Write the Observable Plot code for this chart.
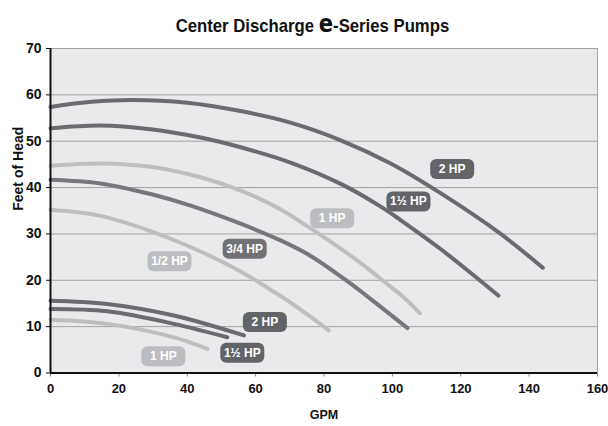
<!DOCTYPE html>
<html>
<head>
<meta charset="utf-8">
<script src="https://cdn.jsdelivr.net/npm/d3@7"></script>
<script src="https://cdn.jsdelivr.net/npm/@observablehq/plot@0.6"></script>
<style>
  html, body { margin: 0; padding: 0; background: #fff; }
  #title { height: 40px; box-sizing: border-box; padding-top: 7px; padding-left: 16px; line-height: 34px;
           text-align: center; font-family: "Liberation Sans", sans-serif;
           font-weight: bold; font-size: 19px; color: #111; white-space: nowrap; }
  #title .inner { display: inline-block; transform: scaleX(0.88); transform-origin: center; }
  #title .e { font-family: "DejaVu Sans", sans-serif; font-size: 24px; }
</style>
</head>
<body>
<div id="title"><span class="inner">Center Discharge <span class="e">e</span>-Series Pumps</span></div>
<div id="chart"></div>
<script>
// ---- data ----
const xTicks = [0, 20, 40, 60, 80, 100, 120, 140, 160];
const yTicks = [0, 10, 20, 30, 40, 50, 60, 70];

// high-head family
const gpm2hp  = [0, 12, 24, 40, 55.6, 70.2, 84.9, 99.5, 114.1, 131.7, 144];
const head2hp = [57.4, 58.5, 58.9, 58.3, 56.5, 54.0, 50.2, 45.2, 38.8, 30.0, 22.7];

const gpm15hp  = [0, 14.6, 29.3, 43.9, 55.6, 70.2, 84.9, 96.6, 102.4, 114, 125.9, 131];
const head15hp = [52.8, 53.4, 52.6, 50.8, 48.7, 45.4, 40.8, 35.9, 33.0, 26.8, 19.8, 16.7];

const gpm1hp  = [0, 14.6, 29.3, 42, 53.3, 60, 68, 78.5, 88, 97.5, 104.4, 108];
const head1hp = [44.7, 45.2, 44.5, 42.6, 40.0, 38.0, 35.0, 30.0, 25.2, 19.8, 15.6, 12.9];

const gpm34hp  = [0, 14.6, 29.3, 41, 55.6, 67.3, 76, 86.8, 93.6, 104.4];
const head34hp = [41.7, 40.9, 38.6, 36.1, 32.2, 28.6, 25.3, 19.8, 16.0, 9.7];

const gpm12hp  = [0, 14.6, 29.3, 43.9, 55.6, 67.3, 75, 81.4];
const head12hp = [35.2, 33.9, 30.6, 26.2, 21.9, 16.6, 12.7, 9.2];

// low-head family
const gpmLow2hp  = [0, 16.6, 36.1, 56.6];
const headLow2hp = [15.6, 14.9, 12.4, 8.1];

const gpmLow15hp  = [0, 16.6, 36.1, 51.7];
const headLow15hp = [13.8, 13.3, 10.6, 7.7];

const gpmLow1hp  = [0, 16.6, 36.1, 45.9];
const headLow1hp = [11.5, 10.6, 7.7, 5.2];

// curve labels
const labelText = ["2 HP", "1½ HP", "1 HP", "3/4 HP", "1/2 HP", "2 HP", "1½ HP", "1 HP"];
const labelGpm  = [117.5, 104.7, 82.4, 56.8, 34.8, 62.7, 56.1, 33.0];
const labelHead = [44.0, 37.0, 33.4, 26.8, 24.1, 11.0, 4.35, 3.6];

// ---- build ----
const series = [
  ["2 HP", gpm2hp, head2hp], ["1½ HP", gpm15hp, head15hp], ["1 HP", gpm1hp, head1hp],
  ["3/4 HP", gpm34hp, head34hp], ["1/2 HP", gpm12hp, head12hp],
  ["2 HP", gpmLow2hp, headLow2hp], ["1½ HP", gpmLow15hp, headLow15hp], ["1 HP", gpmLow1hp, headLow1hp]
];
const tone = {"2 HP": "#6a6b6e", "1½ HP": "#6a6b6e", "3/4 HP": "#76777a", "1 HP": "#bdbec0", "1/2 HP": "#bdbec0"};
const badgeTone = {"2 HP": "#636467", "1½ HP": "#636467", "3/4 HP": "#717275", "1 HP": "#bcbdc0", "1/2 HP": "#bcbdc0"};

const lines = series.map(([hp, xs, ys], i) => xs.map((x, j) => ({id: i, hp, x, y: ys[j]}))).flat();
const labels = labelText.map((t, i) => ({t, x: labelGpm[i], y: labelHead[i]}));
const axisTitles = [{t: "Feet of Head"}];
const xTitle = [{t: "GPM"}];

const badge = {
  draw(ctx) {
    const w = 22, h = 10, r = 6;
    ctx.moveTo(-w + r, -h);
    ctx.lineTo(w - r, -h); ctx.arcTo(w, -h, w, -h + r, r);
    ctx.lineTo(w, h - r); ctx.arcTo(w, h, w - r, h, r);
    ctx.lineTo(-w + r, h); ctx.arcTo(-w, h, -w, h - r, r);
    ctx.lineTo(-w, -h + r); ctx.arcTo(-w, -h, -w + r, -h, r);
    ctx.closePath();
  }
};

const chart = Plot.plot({
  width: 608,
  height: 386,
  marginLeft: 50,
  marginRight: 11,
  marginTop: 8,
  marginBottom: 53.5,
  style: {background: "transparent"},
  x: {domain: [0, 160]},
  y: {domain: [0, 70]},
  marks: [
    Plot.frame({fill: "#e9eaeb", stroke: null}),
    Plot.ruleY(yTicks.filter(d => d > 0), {stroke: "#a3a3a3", strokeWidth: 1}),
    Plot.ruleX([160], {stroke: "#a3a3a3", strokeWidth: 1}),
    Plot.line(lines, {x: "x", y: "y", z: "id", stroke: d => tone[d.hp], strokeWidth: 4,
      strokeLinecap: "round", strokeLinejoin: "round", curve: "catmull-rom"}),
    Plot.axisX({ticks: xTicks, tickSize: 4, tickPadding: 7, stroke: "#888", label: null,
      fontSize: 13, fontWeight: "bold", fontFamily: "Liberation Sans", fill: "#111"}),
    Plot.axisY({ticks: yTicks, tickSize: 4, tickPadding: 5, stroke: "#111", label: null,
      fontSize: 14, fontWeight: "bold", fontFamily: "Liberation Sans", fill: "#111"}),
    Plot.ruleX([0], {stroke: "#111", strokeWidth: 2}),
    Plot.ruleY([0], {stroke: "#111", strokeWidth: 2}),
    Plot.text(axisTitles, {text: "t", frameAnchor: "left", dx: -32, rotate: -90,
      fontSize: "14px", fontWeight: "bold", fontFamily: "Liberation Sans", fill: "#111"}),
    Plot.text(xTitle, {text: "t", frameAnchor: "bottom", dy: 45.5,
      fontSize: "12.5px", fontWeight: "bold", fontFamily: "Liberation Sans", fill: "#111"}),
    Plot.dot(labels, {x: "x", y: "y", symbol: badge, fill: d => badgeTone[d.t], stroke: null}),
    Plot.text(labels, {x: "x", y: "y", text: "t", fill: "#fff", fontSize: "12px", fontWeight: "bold",
      fontFamily: "Liberation Sans"})
  ]
});
document.getElementById("chart").appendChild(chart);
</script>
</body>
</html>
